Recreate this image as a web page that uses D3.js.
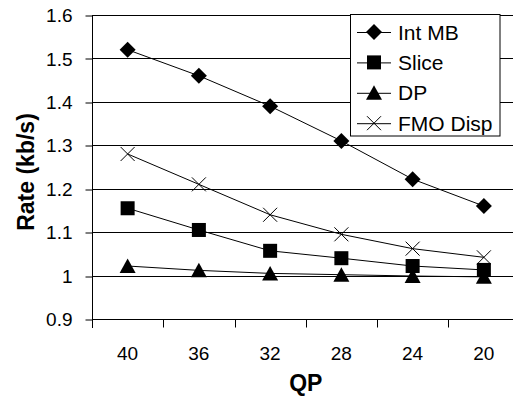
<!DOCTYPE html>
<html><head><meta charset="utf-8">
<script src="https://cdn.jsdelivr.net/npm/d3@7/dist/d3.min.js"></script>
<style>
html,body{margin:0;padding:0;background:#fff;}
svg{display:block;font-family:"Liberation Sans",Arial,sans-serif;}
</style></head>
<body>
<script>
const categories = ["40","36","32","28","24","20"];
const intMB   = [1.52, 1.46, 1.39, 1.31, 1.222, 1.16];
const slice   = [1.155, 1.105, 1.057, 1.04, 1.022, 1.013];
const dp      = [1.022, 1.012, 1.005, 1.002, 0.999, 0.997];
const fmoDisp = [1.28, 1.21, 1.14, 1.095, 1.062, 1.042];
const yTicks  = [0.9, 1, 1.1, 1.2, 1.3, 1.4, 1.5, 1.6];
const seriesNames = ["Int MB","Slice","DP","FMO Disp"];
const seriesData = [intMB, slice, dp, fmoDisp];
const markers = ["diamond","square","triangle","cross"];

const W = 513, H = 397;
const L = 92, R = 519.5, T = 15, B = 319;

const svg = d3.select("body").append("svg").attr("width", W).attr("height", H);

const x = d3.scaleBand().domain(categories).range([L, R]).padding(0);
const y = d3.scaleLinear().domain([0.9, 1.6]).range([B, T]);
const cx = c => x(c) + x.bandwidth()/2;
const py = v => Math.round(y(v)) + 0.5;

// gridlines
svg.append("g").selectAll("line").data(yTicks.filter(t => t > 0.9)).join("line")
  .attr("x1", L).attr("x2", R).attr("y1", d => py(d)).attr("y2", d => py(d))
  .attr("stroke", "#000").attr("stroke-width", 1);

// y axis
const yAxis = d3.axisLeft(y).tickValues(yTicks).tickSize(7).tickPadding(13)
  .tickFormat(d => d3.format("")(+d.toFixed(1)));
const gy = svg.append("g").attr("transform", `translate(${L+0.5},0)`).call(yAxis);
gy.select(".domain").remove();
gy.append("line").attr("x1",0).attr("x2",0).attr("y1",T).attr("y2",B+9).attr("stroke","#000");
gy.selectAll(".tick line").attr("stroke","#000").attr("transform", d => `translate(0,${py(d)-y(d)})`);
gy.selectAll(".tick text").attr("font-size", 19).attr("fill","#000")
  .attr("font-family", "'Liberation Sans',Arial,sans-serif").attr("dx", 0).attr("dy","0.35em");

// x axis
const gx = svg.append("g").attr("transform", `translate(0,${py(0.9)})`);
gx.append("line").attr("x1", L).attr("x2", R).attr("stroke", "#000");
const edges = categories.map(c => x(c)).concat([x(categories[categories.length-1]) + x.bandwidth()]);
gx.selectAll("line.tk").data(edges).join("line").attr("class","tk")
  .attr("x1", d => Math.round(d)+0.5).attr("x2", d => Math.round(d)+0.5)
  .attr("y1", 0).attr("y2", 8).attr("stroke","#000");
gx.selectAll("text").data(categories).join("text")
  .attr("x", d => cx(d)).attr("y", 40).attr("text-anchor","middle")
  .attr("font-size", 19).attr("fill","#000").text(d => d);

// axis titles
svg.append("text").attr("transform", `translate(34,172) rotate(-90)`)
  .attr("text-anchor","middle").attr("font-size", 23).attr("font-weight","bold").text("Rate (kb/s)");
svg.append("text").attr("x", (L+R)/2).attr("y", 391)
  .attr("text-anchor","middle").attr("font-size", 23).attr("font-weight","bold").text("QP");

function drawMarker(g, type) {
  if (type === "diamond") {
    g.append("path").attr("d", "M0,-8L8,0L0,8L-8,0Z").attr("fill","#000");
  } else if (type === "square") {
    g.append("rect").attr("x",-7).attr("y",-7).attr("width",14).attr("height",14).attr("fill","#000");
  } else if (type === "triangle") {
    g.append("path").attr("d", "M0,-7.5L8,7L-8,7Z").attr("fill","#000");
  } else {
    g.append("path").attr("d", "M-7,-7L7,7M-7,7L7,-7").attr("stroke","#000").attr("stroke-width",1).attr("fill","none");
  }
}

const line = d3.line().x((d,i) => cx(categories[i])).y(d => y(d));
seriesData.forEach((data, si) => {
  svg.append("path").datum(data).attr("d", line).attr("fill","none").attr("stroke","#000").attr("stroke-width",1);
  svg.append("g").selectAll("g").data(data).join("g")
    .attr("transform", (d,i) => `translate(${cx(categories[i])},${y(d)})`)
    .each(function(){ drawMarker(d3.select(this), markers[si]); });
});

// legend
const lg = svg.append("g");
lg.append("rect").attr("x", 350.5).attr("y", 14.5).attr("width", 149.5).attr("height", 121.5)
  .attr("fill","#fff").attr("stroke","#000").attr("stroke-width",1);
seriesNames.forEach((n, i) => {
  const yy = 32 + i*30.4;
  const g = lg.append("g").attr("transform", `translate(0,${yy})`);
  g.append("line").attr("x1",357).attr("x2",391).attr("y1",0.5).attr("y2",0.5).attr("stroke","#000");
  const m = g.append("g").attr("transform","translate(374,0)");
  drawMarker(m, markers[i]);
  g.append("text").attr("x", 398).attr("y", 0).attr("dy","0.36em").attr("font-size", 21).attr("fill","#000").text(n);
});
</script>
</body></html>
